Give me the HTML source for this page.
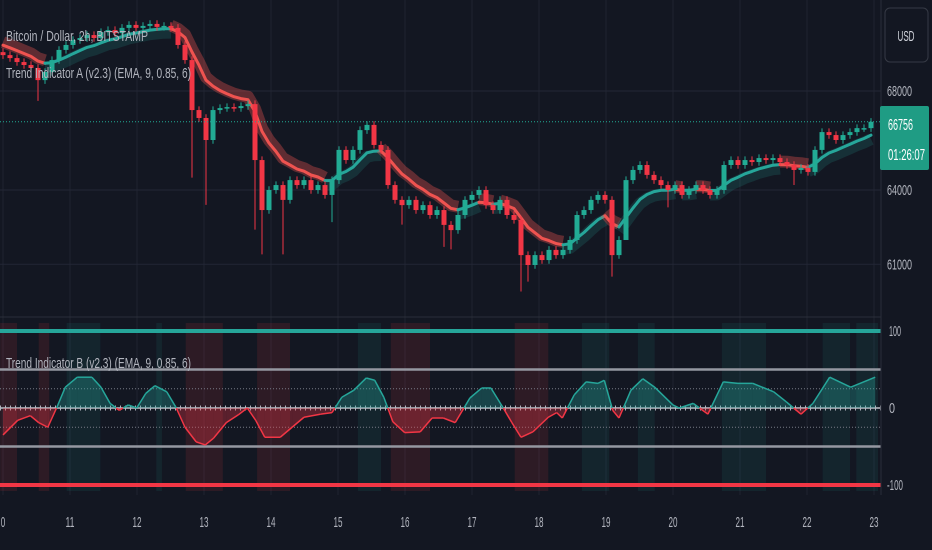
<!DOCTYPE html>
<html><head><meta charset="utf-8"><style>
html,body{margin:0;padding:0;background:#131722;}
svg{display:block;font-family:"Liberation Sans",sans-serif;}
</style></head><body>
<svg id="chart" width="932" height="550" viewBox="0 0 932 550">
<rect width="932" height="550" fill="#131722"/>
<g id="grid"></g>
<g id="bands"></g>
<g id="price"></g>
<g id="osc"></g>
<g id="axes"></g>
<text x="6" y="41" fill="#b2b5be" font-size="15" textLength="142" lengthAdjust="spacingAndGlyphs">Bitcoin / Dollar, 2h, BITSTAMP</text>
<text x="6" y="78" fill="#b2b5be" font-size="15" textLength="185" lengthAdjust="spacingAndGlyphs">Trend Indicator A (v2.3) (EMA, 9, 0.85, 6)</text>
<text x="6" y="368" fill="#b2b5be" font-size="15" textLength="185" lengthAdjust="spacingAndGlyphs">Trend Indicator B (v2.3) (EMA, 9, 0.85, 6)</text>
<rect x="885" y="8" width="43" height="54" rx="5" fill="#131722" stroke="#363a45"/>
<text x="906" y="41" fill="#d1d4dc" font-size="15" text-anchor="middle" textLength="17" lengthAdjust="spacingAndGlyphs">USD</text>
</svg>
<script>
const closes=[69450,69330,69170,69050,68930,68440,68770,69250,69660,69860,70060,70140,70260,70140,70380,70460,70340,70550,70670,70550,70630,70710,70590,70630,70550,69860,69250,67230,66910,66020,67230,67310,67350,67310,67390,67470,65210,63190,64000,64200,63600,64400,64200,64400,64000,64200,63800,64400,65620,65210,65620,66420,66630,65820,65620,64200,63600,63390,63600,63190,63390,62990,63190,62590,62380,62990,63600,63800,64000,63390,63190,63600,62990,62790,61370,60970,61370,61170,61580,61370,61580,61980,62990,63190,63600,63800,63600,61370,61980,64400,64810,65010,64610,64400,64200,64000,64200,63800,64000,64200,64000,63800,64000,65010,65210,65010,65210,65130,65290,65210,65290,65130,65010,64810,64890,64730,65620,66340,66220,66020,66220,66340,66500,66500,66756];
const longWickIdx=[5,27,29,36,37,40,47,57,63,64,74,75,87,89,95,113];
const longWickLow=[67600,64500,63400,62400,61400,61400,62700,62600,61700,61600,59900,60300,60500,63300,63300,64200];
const oscBars=[0,2.1,3.9,5.1,6.4,7.7,8.9,10.6,12.7,14,15.3,16.6,17.9,19.1,20.4,21.7,23.4,24.7,26,27.6,28.9,30.1,31.9,33.6,34.9,36.1,37.4,39.6,41.3,43,45.4,47,48.4,50.1,51.9,53.1,54.4,55.7,57.4,59.6,61.3,62.9,64.6,66.7,68.4,69.7,71.4,72.7,74,75.7,77.9,79.1,79.9,81.6,83.3,85,85.9,87.1,88,89.7,91.4,93.1,95.7,96.6,98.6,100.7,102.9,105,107.1,110.1,111.9,114,115.7,118.1,121.1,124.6];
const oscVals=[-35,-16,-10,-19,-25,1,27,40,40,27,6,-3,4,0,19,29,21,1,-25,-44,-48,-39,-19,-9,0,-16,-38,-38,-25,-12,-8,-6,14,23,39,36,14,-18,-32,-31,-13,-13,-19,13,26,26,1,-19,-38,-31,-12,-6,-13,17,34,32,36,-3,-13,23,38,27,4,0,6,-8,34,32,32,21,8,-8,6,40,27,40];
const redBands=[[-0.4,2],[5.1,6.6],[26.1,31.4],[36.3,41],[55.4,61],[73.1,77.9]];
const greenBands=[[9.1,13.9],[21.9,22.7],[50.7,54],[82.7,86.6],[90.7,93.1],[102.7,109],[117.1,121],[121.9,125]];
const dayLabels=["0","11","12","13","14","15","16","17","18","19","20","21","22","23"];
const priceTicks=[68000,64000,61000];
const oscTicks=[100,0,-100];
const lastPrice=66756;

const NS="http://www.w3.org/2000/svg";
function mk(tag,attrs,parent){const e=document.createElementNS(NS,tag);for(const k in attrs)e.setAttribute(k,attrs[k]);parent.appendChild(e);return e;}
const xB=i=>3+7*i;
const xDay=d=>3+d*67.0;
const yP=p=>190-(p-64000)*0.02475;
const yO=v=>408-v*0.77;
const G=document.getElementById('grid'),B=document.getElementById('bands'),P=document.getElementById('price'),O=document.getElementById('osc'),A=document.getElementById('axes');
const R=881;

dayLabels.forEach((d,i)=>{const l=mk('line',{x1:xDay(i),x2:xDay(i),y1:0,y2:495,stroke:'#1f2330'},G);

});
priceTicks.forEach(p=>{const l=mk('line',{x1:0,x2:R,y1:yP(p),y2:yP(p),stroke:'#232735'},G);

});
const sep=mk('line',{x1:0,x2:R,y1:317,y2:317,stroke:'#2a2e39'},G);



redBands.forEach(b=>{const r=mk('rect',{x:xB(b[0]),y:323,width:xB(b[1])-xB(b[0]),height:168,fill:'rgba(242,54,69,0.12)'},B);

});
greenBands.forEach(b=>{const r=mk('rect',{x:xB(b[0]),y:323,width:xB(b[1])-xB(b[0]),height:168,fill:'rgba(34,171,148,0.10)'},B);

});

// EMA trend, drawn as colour runs
const ema=[];const a=2/10;closes.forEach((c,i)=>ema.push(i?ema[i-1]+a*(c-ema[i-1]):c+400));
const runs=[];let cur=null;
for(let i=1;i<ema.length;i++){const up=ema[i]>=ema[i-1];
 if(!cur||cur.up!==up){cur={up,pts:[i-1]};runs.push(cur);} cur.pts.push(i);}
runs.forEach(r=>{
 const d=r.pts.map((i,k)=>(k?'L':'M')+xB(i)+','+yP(ema[i]).toFixed(1)).join(' ');
 const off=r.up?4:-3;
 const dg=r.pts.map((i,k)=>(k?'L':'M')+xB(i)+','+(yP(ema[i])+off).toFixed(1)).join(' ');
 const g=mk('path',{d:dg,fill:'none',stroke:r.up?'#26a69a':'#ef5350','stroke-opacity':r.up?0.18:0.35,'stroke-width':12,'stroke-linejoin':'round'},P);
 
 
 const l=mk('path',{d:d,fill:'none',stroke:r.up?'#26a69a':'#ef5350','stroke-width':3,'stroke-linejoin':'round','stroke-linecap':'round'},P);
 
 
});
closes.forEach((c,i)=>{
 const o=i?closes[i-1]:c+120;const up=c>=o;const col=up?'#22ab94':'#f23645';
 let hi=Math.max(o,c)+150,lo=Math.min(o,c)-150;
 const k=longWickIdx.indexOf(i);if(k>=0)lo=longWickLow[k];
 const w=mk('line',{x1:xB(i),x2:xB(i),y1:yP(hi),y2:yP(lo),stroke:col,'stroke-width':1},P);
 
 
 const y1=yP(Math.max(o,c)),y2=yP(Math.min(o,c));
 const r=mk('rect',{x:xB(i)-2.5,y:y1,width:5,height:Math.max(1.5,y2-y1),fill:col},P);
 
 
});
const pl=mk('line',{x1:0,x2:R,y1:yP(lastPrice),y2:yP(lastPrice),stroke:'#22ab94','stroke-dasharray':'1 2'},P);



function hl(v,col,w,dash,name){const l=mk('line',{x1:0,x2:R,y1:yO(v),y2:yO(v),stroke:col,'stroke-width':w},O);if(dash)l.setAttribute('stroke-dasharray',dash);

}
hl(100,'#26a69a',4,null,'upper-100-line');
hl(-100,'#f23645',4,null,'lower-100-line');
hl(50,'#9598a1',2.5,null,'level-50-line');
hl(-50,'#9598a1',2.5,null,'level-minus-50-line');
hl(25,'#787b86',1,'1 2','level-25-line');
hl(-25,'#787b86',1,'1 2','level-minus-25-line');
hl(0,'#9598a1',2,null,'zero-line');
hl(0,'#b2b5be',5,'1 4','zero-ticks');
for(let i=1;i<oscBars.length;i++){
 const x0=xB(oscBars[i-1]),x1=xB(oscBars[i]),v0=oscVals[i-1],v1=oscVals[i];
 const segs=[];
 if(v0*v1<0){const t=v0/(v0-v1);const xm=x0+t*(x1-x0);segs.push([x0,v0,xm,0],[xm,0,x1,v1]);}else segs.push([x0,v0,x1,v1]);
 segs.forEach(s=>{
  const up=(s[1]+s[3])>=0;
  const f=mk('polygon',{points:`${s[0]},${yO(0)} ${s[0]},${yO(s[1])} ${s[2]},${yO(s[3])} ${s[2]},${yO(0)}`,fill:up?'rgba(38,166,154,0.32)':'rgba(242,54,69,0.32)'},O);
  
  
  const l=mk('line',{x1:s[0],y1:yO(s[1]),x2:s[2],y2:yO(s[3]),stroke:up?'#26a69a':'#f23645','stroke-width':1.5},O);
  
  
 });
}

const ax=mk('line',{x1:R,x2:R,y1:0,y2:495,stroke:'#2a2e39'},A);


priceTicks.forEach(p=>{const t=mk('text',{x:887,y:yP(p)+5,fill:'#b2b5be','font-size':15,textLength:25,lengthAdjust:'spacingAndGlyphs'},A);t.textContent=p;

});
oscTicks.forEach(v=>{const t=mk('text',{x:v<0?887:889,y:yO(v)+5,fill:'#b2b5be','font-size':15,textLength:v===0?6:(v<0?16:12),lengthAdjust:'spacingAndGlyphs'},A);t.textContent=v;

});
dayLabels.forEach((d,i)=>{const t=mk('text',{x:xDay(i),y:527,fill:'#b2b5be','font-size':15,'text-anchor':'middle',textLength:d.length*4.5,lengthAdjust:'spacingAndGlyphs'},A);t.textContent=d;

});
const tag=mk('rect',{x:880,y:106,width:49,height:64,rx:2,fill:'#1f9c84'},A);


const t1=mk('text',{x:888,y:130,fill:'#ffffff','font-size':16,textLength:25,lengthAdjust:'spacingAndGlyphs'},A);t1.textContent=lastPrice;


const t2=mk('text',{x:888,y:160,fill:'#ffffff','font-size':16,textLength:37,lengthAdjust:'spacingAndGlyphs'},A);t2.textContent='01:26:07';


</script>
</body></html>
